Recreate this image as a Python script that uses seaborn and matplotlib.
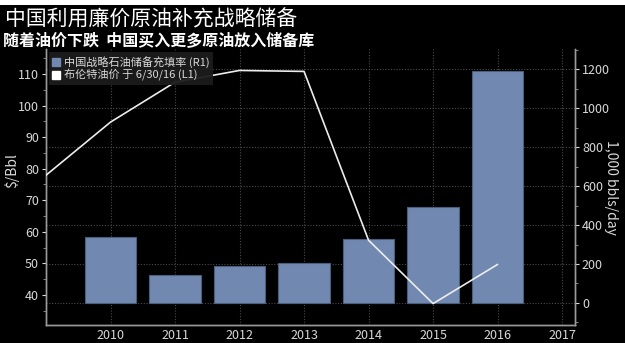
import matplotlib
matplotlib.use("Agg")
import matplotlib.pyplot as plt
from matplotlib.patches import Rectangle
from matplotlib.lines import Line2D
from matplotlib.ticker import MultipleLocator
import numpy as np
import pandas as pd
import seaborn as sns

# China strategic petroleum reserve fill rate, 1,000 bbls/day (right axis)
years = [2010, 2011, 2012, 2013, 2014, 2015, 2016]
spr_fill = [340, 142, 190, 205, 327, 491, 1191]

# Brent crude price, $/Bbl (left axis), year-end values, last one as of 6/30/16
brent_years = [2009, 2010, 2011, 2012, 2013, 2014, 2015, 2016]
brent_price = [77.93, 94.75, 107.38, 111.11, 110.80, 57.33, 37.28, 49.68]

year_ticks = [2010, 2011, 2012, 2013, 2014, 2015, 2016, 2017]

title = "中国利用廉价原油补充战略储备"
subtitle = "随着油价下跌  中国买入更多原油放入储备库"
bar_label = "中国战略石油储备充填率 (R1)"
line_label = "布伦特油价 于 6/30/16 (L1)"

sns.set_theme(style="dark")
plt.rcParams["font.family"] = ["Noto Sans CJK SC", "DejaVu Sans"]

bg = "#000000"
text_c = "#d9d9d9"
spine_c = "#9a9a9a"
bar_c = "#7189b0"

fig = plt.figure(figsize=(6.25, 3.43), dpi=100, facecolor=bg)
fig.patches.append(Rectangle((0, 1 - 5 / 343), 1, 5 / 343, transform=fig.transFigure,
                             facecolor="white", edgecolor="none", zorder=10))

ax_bar = fig.add_axes([46 / 625, 18 / 343, (575 - 46) / 625, (325 - 49) / 343])
ax_bar.set_facecolor(bg)

bars_df = pd.DataFrame({"year": years, "fill": spr_fill})
sns.barplot(data=bars_df, x="year", y="fill", native_scale=True, width=0.8,
            color=bar_c, edgecolor="#4d5e7c", linewidth=0.8, saturation=1,
            ax=ax_bar, zorder=2)

# Brent line on a twin axis so it is drawn above the bars
ax_line = ax_bar.twinx()
sns.lineplot(x=brent_years, y=brent_price, ax=ax_line, color="#ececec",
             linewidth=1.2, zorder=5)

# bar scale on the right, price scale on the left
ax_bar.yaxis.tick_right()
ax_bar.yaxis.set_label_position("right")
ax_line.yaxis.tick_left()
ax_line.yaxis.set_label_position("left")

ax_bar.set_ylim(-113, 1303)
ax_bar.set_yticks([0, 200, 400, 600, 800, 1000, 1200])
ax_bar.yaxis.set_minor_locator(MultipleLocator(100))
ax_bar.set_xlim(2009, 2017.2)
ax_bar.set_xticks(year_ticks)
ax_bar.set_xticklabels([str(y) for y in year_ticks])
ax_bar.set_xlabel("")
ax_bar.set_ylabel("1,000 bbls/day", color=text_c, fontsize=10, rotation=270,
                  va="center")
ax_bar.yaxis.set_label_coords(1.068, 0.50)

ax_bar.grid(True, axis="both", which="major", color="#4a4a4a", linestyle=(0, (1, 1.5)),
            linewidth=0.8, zorder=0)
ax_bar.set_axisbelow(True)

ax_line.set_ylim(30.5, 117.9)
ax_line.set_yticks([40, 50, 60, 70, 80, 90, 100, 110])
ax_line.yaxis.set_minor_locator(MultipleLocator(5))
ax_line.set_ylabel("$/Bbl", color=text_c, fontsize=10, va="center")
ax_line.yaxis.set_label_coords(-0.064, 0.56)
ax_line.grid(False)

for ax in (ax_bar, ax_line):
    ax.spines["top"].set_visible(False)
    for side in ("left", "right", "bottom"):
        ax.spines[side].set_color(spine_c)
        ax.spines[side].set_linewidth(1.0)
    ax.tick_params(axis="both", which="major", colors=text_c, labelsize=9,
                   length=3, width=0.8, pad=2)
    ax.tick_params(axis="both", which="minor", color=spine_c, length=2, width=0.6)
    ax.tick_params(axis="x", length=0, pad=3)

handles = [
    Line2D([0], [0], marker="s", linestyle="none", markersize=6,
           markerfacecolor=bar_c, markeredgecolor=bar_c),
    Line2D([0], [0], marker="s", linestyle="none", markersize=6,
           markerfacecolor="white", markeredgecolor="white"),
]
leg = ax_line.legend(handles, [bar_label, line_label], loc="upper left",
                     bbox_to_anchor=(0.0, 1.0), frameon=True, fontsize=8,
                     handlelength=0.6, handletextpad=0.4, labelspacing=0.15,
                     borderpad=0.35, borderaxespad=0.25, labelcolor=text_c)
leg.get_frame().set_facecolor("#1c1c1c")
leg.get_frame().set_edgecolor("none")
leg.get_frame().set_alpha(0.95)
leg.get_frame().set_boxstyle("square", pad=0)

fig.text(5 / 625, 1 - 19 / 343, title, color="white", fontsize=15,
         va="center", ha="left")
fig.text(3 / 625, 1 - 40 / 343, subtitle, color="white", fontsize=11.5,
         fontweight="bold", va="center", ha="left")

fig.savefig("out.png", dpi=100, facecolor=bg)
